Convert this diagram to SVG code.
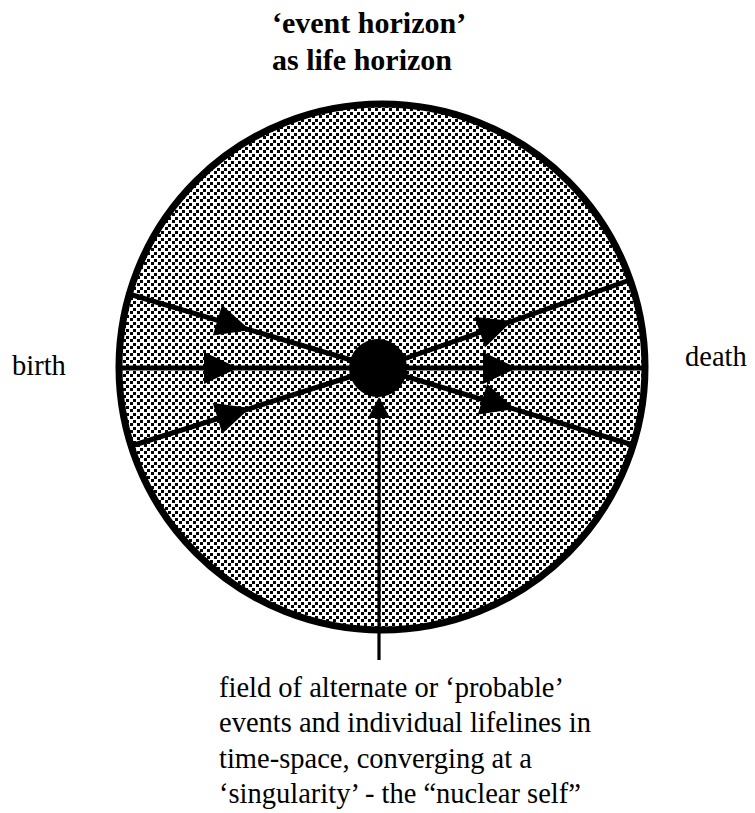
<svg xmlns="http://www.w3.org/2000/svg" xmlns:xlink="http://www.w3.org/1999/xlink" width="755" height="813" viewBox="0 0 755 813">
<style>
.title{font-family:"Liberation Serif","Times New Roman",serif;font-weight:bold;font-size:30px;fill:#000}
.lbl{font-family:"Liberation Serif","Times New Roman",serif;font-size:28.5px;fill:#000}
.life{stroke:#000;stroke-width:5;fill:none}
</style>
<defs>
<pattern id="dots" patternUnits="userSpaceOnUse" width="7" height="7">
<rect x="0" y="0" width="3" height="3" fill="#000"/>
<rect x="4" y="3" width="3" height="3" fill="#000"/>
</pattern>
<path id="ah" d="M0,0 L-34,-16 L-34,16 Z" fill="#000"/>
</defs>
<rect width="755" height="813" fill="#fff"/>
<g id="title">
<text class="title" x="272" y="33">‘event horizon’</text>
<text class="title" x="272" y="70">as life horizon</text>
</g>
<g id="horizon">
<circle cx="382" cy="367" r="263" fill="#fff"/>
<circle cx="382" cy="367" r="263" fill="url(#dots)" stroke="#000" stroke-width="7"/>
</g>
<g id="connectors">
<line class="life" x1="129" y1="294" x2="378" y2="368"/>
<line class="life" x1="118" y1="368" x2="646" y2="368"/>
<line class="life" x1="131" y1="446" x2="378" y2="368"/>
<line class="life" x1="378" y1="368" x2="630" y2="280"/>
<line class="life" x1="378" y1="368" x2="633" y2="445"/>
<use xlink:href="#ah" transform="translate(250,330) rotate(16.6)"/>
<use xlink:href="#ah" transform="translate(238,368)"/>
<use xlink:href="#ah" transform="translate(250,408) rotate(-17.5)"/>
<use xlink:href="#ah" transform="translate(512,321) rotate(-19.2)"/>
<use xlink:href="#ah" transform="translate(517,368)"/>
<use xlink:href="#ah" transform="translate(515,409) rotate(16.8)"/>
<line x1="379" y1="660" x2="379" y2="412" stroke="#000" stroke-width="3.2"/>
<path d="M379,397 L390,418 L368,418 Z" fill="#000"/>
</g>
<g id="nucleus">
<circle cx="378" cy="368" r="29" fill="#000"/>
</g>
<g id="birth"><text class="lbl" x="12" y="375">birth</text></g>
<g id="death"><text class="lbl" x="685" y="366">death</text></g>
<g id="caption">
<text class="lbl" x="219" y="697">field of alternate or ‘probable’</text>
<text class="lbl" x="219" y="732">events and individual lifelines in</text>
<text class="lbl" x="219" y="768">time-space, converging at a</text>
<text class="lbl" x="219" y="803">‘singularity’ - the “nuclear self”</text>
</g>
</svg>
